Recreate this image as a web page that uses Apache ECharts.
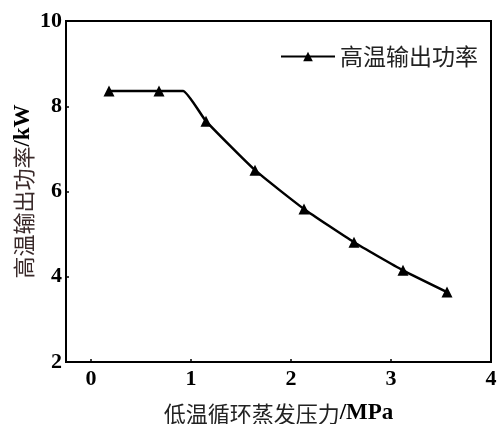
<!DOCTYPE html>
<html>
<head>
<meta charset="utf-8">
<script src="https://cdn.jsdelivr.net/npm/echarts@6/dist/echarts.min.js"></script>
<style>
  html, body { margin: 0; padding: 0; background: #fff; }
  #chart { width: 497px; height: 424px; }
</style>
</head>
<body>
<div id="chart"></div>
<script>
// Low-temperature cycle evaporating pressure (MPa) vs. high-temperature output power (kW)
const pressure = [0.18, 0.68, 0.92, 1.15, 1.64, 2.13, 2.63, 3.12, 3.56];
const power    = [8.36, 8.36, 8.36, 7.65, 6.50, 5.59, 4.81, 4.15, 3.64];
const marked   = [true, true, false, true, true, true, true, true, true];
const seriesName = '高温输出功率';
const xTicks = [0, 1, 2, 3, 4];

const cjk = '"Noto Sans CJK SC", sans-serif';
const serif = '"Liberation Serif", "DejaVu Serif", serif';

const data = pressure.map((p, i) => marked[i]
  ? [p, power[i]]
  : { value: [p, power[i]], symbol: 'none' });

const chart = echarts.init(document.getElementById('chart'));
chart.setOption({
  animation: false,
  backgroundColor: '#fff',
  grid: {
    left: 66, top: 21, right: 6, bottom: 62,
    outerBoundsMode: 'none',
    show: true, borderColor: '#000', borderWidth: 2
  },
  legend: {
    top: 40, right: 14,
    itemWidth: 54, itemHeight: 12, itemGap: 8,
    textStyle: { fontFamily: cjk, fontSize: 23, color: '#222' },
    data: [seriesName]
  },
  xAxis: {
    type: 'value',
    min: -0.25, max: 4,
    interval: 1,
    name: '{c|低温循环蒸发压力}{b|/MPa}',
    nameLocation: 'middle',
    nameGap: 40,
    nameTextStyle: {
      rich: {
        c: { fontFamily: cjk, fontSize: 22, color: '#222' },
        b: { fontFamily: serif, fontSize: 23, fontWeight: 'bold', color: '#000' }
      }
    },
    axisLine: { show: true, onZero: false, lineStyle: { color: '#000', width: 2 } },
    axisTick: { show: true, inside: true, length: 3, lineStyle: { color: '#000', width: 1.5 },
      customValues: xTicks },
    axisLabel: {
      fontFamily: serif, fontSize: 22, fontWeight: 'bold', color: '#000', margin: 6,
      customValues: xTicks,
      formatter: v => String(v)
    },
    splitLine: { show: false }
  },
  yAxis: {
    type: 'value',
    min: 2, max: 10,
    interval: 2,
    name: '{c|高温输出功率}{b|/kW}',
    nameLocation: 'middle',
    nameRotate: 90,
    nameGap: 31,
    nameMoveOverlap: false,
    nameTextStyle: {
      rich: {
        c: { fontFamily: cjk, fontSize: 22, color: '#3a2a2a' },
        b: { fontFamily: serif, fontSize: 23, fontWeight: 'bold', color: '#000' }
      }
    },
    axisLine: { show: true, onZero: false, lineStyle: { color: '#000', width: 2 } },
    axisTick: { show: true, inside: true, length: 3, lineStyle: { color: '#000', width: 1.5 } },
    axisLabel: {
      fontFamily: serif, fontSize: 22, fontWeight: 'bold', color: '#000', margin: 4
    },
    splitLine: { show: false }
  },
  series: [{
    name: seriesName,
    type: 'line',
    data: data,
    smooth: 0.15,
    symbol: 'triangle',
    symbolSize: 11,
    showAllSymbol: true,
    lineStyle: { color: '#000', width: 2.5 },
    itemStyle: { color: '#000' }
  }]
});
</script>
</body>
</html>
